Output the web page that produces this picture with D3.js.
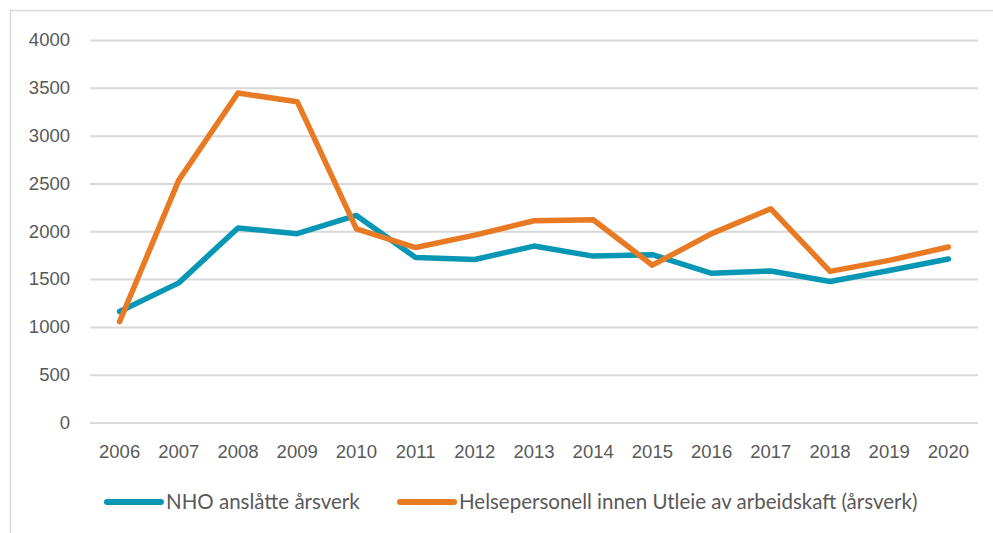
<!DOCTYPE html>
<html>
<head>
<meta charset="utf-8">
<script src="https://cdn.jsdelivr.net/npm/d3@7"></script>
<style>
  body { margin: 0; background: #fff; }
  svg { display: block; font-family: "Source Sans Pro", Lato, "Noto Sans", sans-serif; }
</style>
</head>
<body>
<svg id="chart" width="993" height="533"></svg>
<script>
const years = ["2006","2007","2008","2009","2010","2011","2012","2013","2014","2015","2016","2017","2018","2019","2020"];
const nhoValues = [1160, 1460, 2035, 1975, 2165, 1725, 1705, 1845, 1740, 1755, 1560, 1585, 1475, 1590, 1710];
const helseValues = [1055, 2535, 3445, 3355, 2025, 1830, 1960, 2110, 2120, 1645, 1975, 2235, 1580, 1695, 1835];
const yTicks = [0, 500, 1000, 1500, 2000, 2500, 3000, 3500, 4000];

const seriesNames = ["NHO anslåtte årsverk", "Helsepersonell innen Utleie av arbeidskaft (årsverk)"];
const colors = ["#0797b4", "#e97a24"];

const series = [
  { name: seriesNames[0], color: colors[0], values: nhoValues },
  { name: seriesNames[1], color: colors[1], values: helseValues }
];

const svg = d3.select("#chart");
const textColor = "#595959";
const gridColor = "#d9d9d9";

// ramme rundt diagrammet (bare topp og venstre synlig)
svg.append("path")
  .attr("d", "M10.5,533 L10.5,10.5 L993,10.5")
  .attr("fill", "none")
  .attr("stroke", gridColor)
  .attr("stroke-width", 1.5);

const x = d3.scaleBand().domain(years).range([90, 978]);
const y = d3.scaleLinear().domain([0, 4000]).range([422.5, 40]);

// rutenett
const yAxis = svg.append("g")
  .attr("transform", "translate(90,0)")
  .call(d3.axisLeft(y).tickValues(yTicks).tickFormat(d3.format("d")).tickSize(-888).tickPadding(20));
yAxis.select(".domain").remove();
yAxis.selectAll(".tick line").attr("stroke", gridColor).attr("stroke-width", 2);
yAxis.selectAll(".tick text")
  .attr("fill", textColor)
  .style("font-size", "18.5px")
  .attr("dy", "0.32em");

const xAxis = svg.append("g")
  .attr("transform", "translate(0,422.5)")
  .call(d3.axisBottom(x).tickSize(0).tickPadding(22));
xAxis.select(".domain").remove();
xAxis.selectAll(".tick text")
  .attr("fill", textColor)
  .style("font-size", "18.5px");

const line = d3.line()
  .x((d, i) => x(years[i]) + x.bandwidth() / 2)
  .y(d => y(d));

svg.append("g")
  .selectAll("path")
  .data(series)
  .enter()
  .append("path")
  .attr("d", d => line(d.values))
  .attr("fill", "none")
  .attr("stroke", d => d.color)
  .attr("stroke-width", 5.5)
  .attr("stroke-linecap", "round")
  .attr("stroke-linejoin", "round");

// tegnforklaring
const legendX = [107, 400];
const legend = svg.append("g")
  .selectAll("g")
  .data(series)
  .enter()
  .append("g")
  .attr("transform", (d, i) => `translate(${legendX[i]},502)`);

legend.append("line")
  .attr("x1", 0).attr("x2", 54)
  .attr("y1", 0).attr("y2", 0)
  .attr("stroke", d => d.color)
  .attr("stroke-width", 6)
  .attr("stroke-linecap", "round");

legend.append("text")
  .attr("x", 59)
  .attr("dy", "0.35em")
  .attr("fill", textColor)
  .style("font-size", "20.5px")
  .text(d => d.name);
</script>
</body>
</html>
